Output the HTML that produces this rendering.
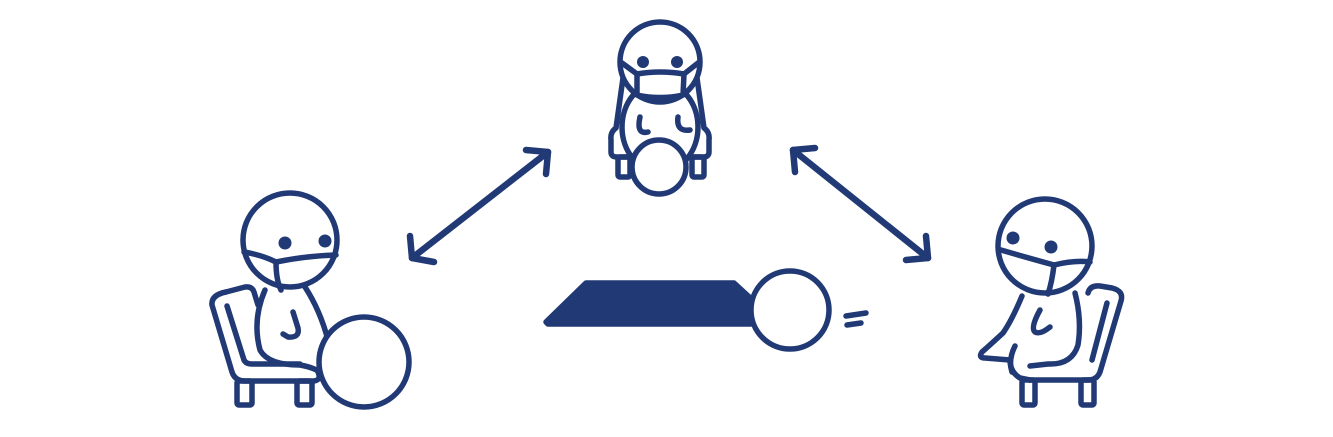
<!DOCTYPE html>
<html><head><meta charset="utf-8"><style>html,body{margin:0;padding:0;background:#fff}svg{display:block}</style></head>
<body>
<svg width="1333" height="437" viewBox="0 0 1333 437">
<g fill="none" stroke="#213a75" stroke-width="5.5" stroke-linecap="round" stroke-linejoin="round">
 <g stroke-width="6.5">
  <line x1="412" y1="258" x2="548" y2="152"/>
  <polyline points="410,236 412,258 434,262"/>
  <polyline points="526,150 548,152 546,174"/>
 </g>
 <g stroke-width="6.5">
  <line x1="793" y1="150" x2="928" y2="258"/>
  <polyline points="795,172 793,150 815,148"/>
  <polyline points="906,260 928,258 926,236"/>
 </g>
 <g>
  <path d="M226,292 L245,287 Q252,286 254,292 L258,305" />
  <path d="M226,292 Q211,295 212,305 L232,372 Q235,381 245,381 L312,381 Q322,381 318,372" />
  <path d="M227,306 L244,360 Q246,364 252,364 L300,364"/>
  <rect x="237" y="381" width="15" height="24" rx="2"/>
  <rect x="297" y="381" width="15" height="24" rx="2"/>
  <path d="M265,290 Q252,320 260,350 Q268,365 300,365 Q318,368 328,378"/>
  <path d="M305,287 Q320,310 328,340"/>
  <path d="M293,312 L298,328 Q300,338 288,337 L283,334"/>
  <circle cx="290" cy="240" r="47" fill="#fff"/>
  <path d="M244,252 Q262,255 276,262 Q305,256 336,255"/>
  <path d="M276,262 Q276,280 281,290"/>
  <circle cx="364" cy="362" r="45" fill="#fff"/>
 </g>
 <g>
  <path d="M623,78 L616,128 Q610,132 611,140 L611,152 Q611,157 617,157 L631,157"/>
  <path d="M697,78 L704,128 Q710,132 709,140 L709,152 Q709,157 703,157 L689,157"/>
  <rect x="618" y="157" width="12" height="20" rx="2"/>
  <rect x="692" y="157" width="12" height="20" rx="2"/>
  <ellipse cx="660" cy="127" rx="38" ry="45" fill="#fff"/>
  <path d="M640,117 Q636,135 648,132"/>
  <path d="M678,117 Q676,132 690,130"/>
  <circle cx="660" cy="62" r="40" fill="#fff"/>
  <path d="M622,63 L637,74 L637,95 Q660,100 683,95 L684,74 L698,63"/>
  <path d="M637,74 Q660,70 684,74"/>
  <circle cx="659" cy="167" r="27" fill="#fff"/>
 </g>
 <g>
  <polygon points="546,322 586,283 734,283 758,305 758,324 548,324" fill="#213a75"/>
  <circle cx="790" cy="310" r="39" fill="#fff"/>
  <line x1="846" y1="316" x2="866" y2="313"/>
  <line x1="847" y1="325" x2="861" y2="323"/>
 </g>
 <g>
  <path d="M1088,293 Q1090,285 1100,286 L1112,288 Q1124,291 1121,301 L1100,372 Q1097,380 1088,380 L1030,380"/>
  <path d="M1107,303 L1092,360"/>
  <rect x="1022" y="380" width="13" height="25" rx="2"/>
  <rect x="1081" y="380" width="13" height="25" rx="2"/>
  <path d="M1022,296 Q1012,320 1003,333 Q990,345 982,352 Q978,358 985,358 L1010,360 Q1010,372 1020,378 L1030,380"/>
  <path d="M1075,293 Q1082,320 1078,345 Q1072,365 1048,364 L1030,366"/>
  <path d="M1015,346 Q1008,360 1012,372"/>
  <path d="M1040,310 Q1030,328 1035,332 Q1040,335 1050,327"/>
  <circle cx="1045" cy="246" r="47" fill="#fff"/>
  <path d="M1001,250 Q1025,257 1054,265 Q1075,260 1090,262"/>
  <path d="M1054,265 Q1052,282 1048,294"/>
 </g>
</g>
<g fill="#213a75">
 <circle cx="285" cy="243" r="6.5"/>
 <circle cx="325" cy="241" r="6.5"/>
 <circle cx="643" cy="62" r="6"/>
 <circle cx="677" cy="62" r="6"/>
 <circle cx="1013" cy="238" r="6.5"/>
 <circle cx="1051" cy="247" r="6.5"/>
</g>
</svg>
</body></html>
